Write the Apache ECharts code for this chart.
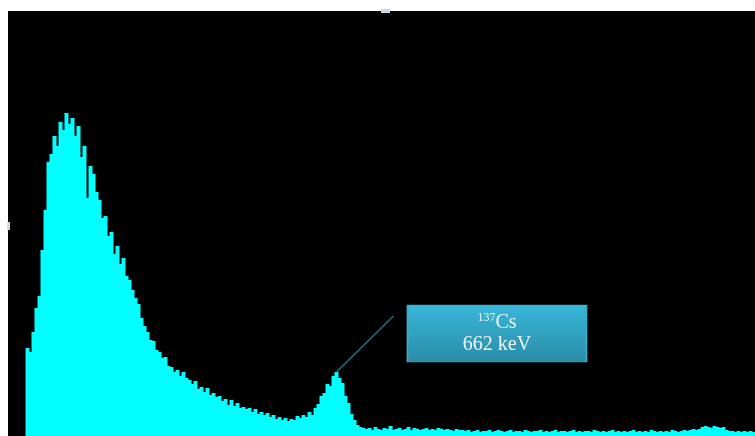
<!DOCTYPE html>
<html>
<head>
<meta charset="utf-8">
<script src="https://cdn.jsdelivr.net/npm/echarts@6/dist/echarts.min.js"></script>
<style>
  html, body { margin: 0; padding: 0; background: #ffffff; }
  #chart { width: 755px; height: 436px; }
</style>
</head>
<body>
<div id="chart"></div>
<script>
// Gamma spectrum counts per channel (arbitrary units)
const countsLowEnergy = [
  0, 0, 0, 0, 0, 0, 88, 84, 104, 128,
  140, 186, 226, 274, 282, 300, 290, 314, 306, 323,
  312, 318, 300, 310, 279, 290, 238, 270, 262, 244,
  236, 218, 220, 200, 204, 182, 190, 172, 178, 160,
  156, 146, 138, 132, 118, 110, 104, 96, 95, 86,
  84, 78, 79, 70, 69, 64, 66, 60, 64, 58,
  56, 52, 55, 47, 49, 44, 48, 41, 43, 39,
  40, 35, 37, 31, 36, 30, 33, 28, 29, 27,
  28, 24, 27, 22, 24, 21, 23, 19, 21, 17,
  19, 16, 18, 15, 17, 16, 20, 18, 21, 19,
  24, 21, 28, 32, 40, 43, 52, 50, 60, 64,
  58, 53, 40, 33, 22, 16, 11, 9, 8
];
const countsMidEnergy = [
  7, 8, 6, 9, 7, 6, 8, 7, 10, 6,
  7, 8, 6, 7, 9, 6, 8, 7, 6, 7,
  8, 6, 7, 6, 8, 7, 6, 7, 6, 5,
  7, 6, 6
];
const countsHighEnergy = [
  5, 6, 4, 5, 6, 4, 5, 5, 6, 4,
  5, 6, 5, 4, 5, 6, 4, 5, 5, 4,
  6, 5, 4, 5, 5, 6, 4, 5, 4, 5,
  6, 4, 5, 5, 4, 5, 6, 4, 5, 4,
  5, 5, 4, 6, 5, 4, 5, 4, 5, 6,
  4, 5, 4, 5, 4, 5, 6, 4, 5, 4,
  5, 4, 6, 5, 4, 5, 4, 5, 4, 6,
  5, 4, 5, 6, 5, 6, 7, 6,
  7, 9, 10, 9, 8, 10, 9, 8, 9, 6, 5,
  5, 4, 5, 4, 5, 4, 5, 4
];

// Cs-137 photopeak annotation
const peakChannel = 109;
const peakCounts = 64;
const labelIsotope = '137';
const labelElement = 'Cs';
const labelEnergy = '662 keV';

const counts = countsLowEnergy.concat(countsMidEnergy, countsHighEnergy);
const channels = counts.map((_, i) => String(i));

const chart = echarts.init(document.getElementById('chart'), null, { renderer: 'canvas' });

chart.setOption({
  animation: false,
  backgroundColor: '#ffffff',
  grid: {
    left: 8, top: 11, right: 0, bottom: 0,
    show: true, backgroundColor: '#000000', borderWidth: 0
  },
  xAxis: {
    type: 'category',
    data: channels,
    boundaryGap: true,
    show: false
  },
  yAxis: {
    type: 'value',
    min: 0,
    max: 425,
    show: false
  },
  series: [{
    type: 'bar',
    data: counts,
    // slightly wider than one channel so neighbouring bars overlap and leave no seams
    barWidth: 4,
    barGap: '-100%',
    itemStyle: { color: '#00ffff' },
    silent: true,
    markLine: {
      silent: true,
      symbol: ['none', 'none'],
      label: { show: false },
      lineStyle: { color: '#1f7484', width: 1.5, type: 'solid' },
      data: [[
        { coord: [peakChannel, peakCounts] },
        { coord: [128, 120] }
      ]]
    },
    markPoint: {
      silent: true,
      data: [{
        coord: [162, 102.5],
        symbol: 'rect',
        symbolSize: [179, 57],
        symbolOffset: [1.5, 0],
        itemStyle: {
          color: new echarts.graphic.LinearGradient(0, 0, 0, 1, [
            { offset: 0, color: '#38b7da' },
            { offset: 1, color: '#2a8ca6' }
          ]),
          borderColor: '#3fa9c6',
          borderWidth: 1
        },
        label: {
          show: true,
          position: 'inside',
          formatter: '{sup|' + labelIsotope + '}{el|' + labelElement + '}\n{el|' + labelEnergy + '}',
          lineHeight: 22,
          rich: {
            sup: {
              fontFamily: 'Liberation Serif',
              fontSize: 12,
              color: '#f2f6f8',
              padding: [0, 0, 9, 0]
            },
            el: {
              fontFamily: 'Liberation Serif',
              fontSize: 20,
              color: '#f2f6f8',
              lineHeight: 22
            }
          }
        }
      }]
    }
  }],
  graphic: [
    { type: 'rect', left: 381, top: 9, shape: { width: 9, height: 4 }, style: { fill: '#c9dceb' } },
    { type: 'rect', left: 7, top: 222, shape: { width: 3, height: 8 }, style: { fill: '#c9dceb' } }
  ]
});
</script>
</body>
</html>
